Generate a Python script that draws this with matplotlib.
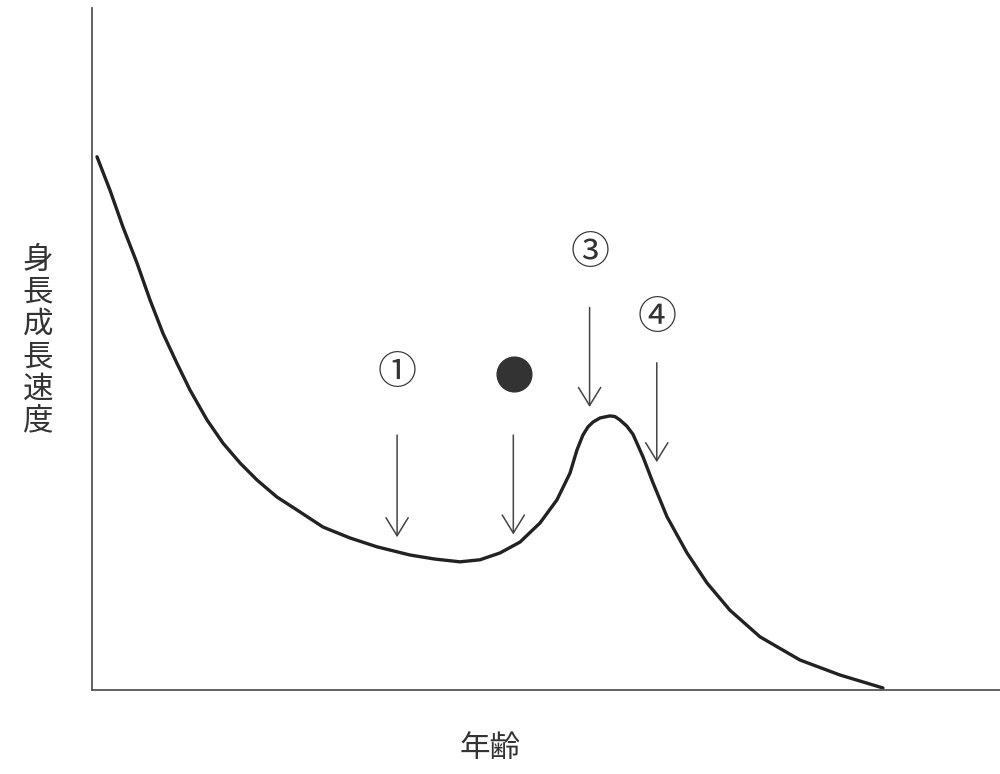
import matplotlib
matplotlib.use("Agg")
import matplotlib.pyplot as plt

plt.rcParams['font.family'] = ['Noto Sans CJK JP', 'DejaVu Sans']

# growth velocity curve (axis units 0..100)
age = [0.55, 1.98, 3.41, 4.96, 6.39, 7.82, 9.36, 10.79, 12.67, 14.43, 16.30,
       18.17, 20.37, 22.58, 25.44, 28.41, 31.39, 35.02, 37.78, 40.53, 42.73,
       44.93, 47.14, 49.34, 51.21, 52.64, 53.41, 54.07, 54.63, 55.18, 55.95,
       57.05, 57.60, 58.15, 58.90, 59.58, 60.68, 61.78, 63.33, 65.53, 67.73,
       70.26, 73.57, 77.97, 82.38, 87.11]
velocity = [78.2, 73.3, 67.9, 62.6, 57.2, 52.3, 47.9, 44.0, 39.6, 36.2, 33.3,
            30.8, 28.3, 26.4, 23.9, 22.3, 21.0, 19.8, 19.2, 18.8, 19.1,
            20.1, 21.7, 24.5, 27.9, 31.8, 35.2, 37.4, 38.6, 39.3, 39.9,
            40.2, 40.1, 39.6, 38.7, 37.5, 34.2, 30.4, 25.4, 20.1, 15.7,
            11.7, 7.8, 4.4, 2.2, 0.3]

# markers: label, label position, arrow x, arrow start/end y
marks = ['①', '●', '③', '④']
mark_x = [33.6, 46.5, 54.8, 62.2]
mark_y = [46.5, 46.3, 64.1, 54.5]
arrow_x = [33.6, 46.4, 54.8, 62.2]
arrow_top = [37.8, 37.8, 56.5, 48.4]
arrow_tip = [22.0, 22.4, 41.1, 33.0]

fig = plt.figure(figsize=(10, 7.74), dpi=100)
ax = fig.add_axes([0.092, 0.1085, 0.908, 0.881])
ax.set_xlim(0, 100)
ax.set_ylim(0, 100)

ax.plot(age, velocity, color='#222222', lw=2.4, solid_capstyle='round',
        solid_joinstyle='round')

for lab, lx, ly, axx, at, tip in zip(marks, mark_x, mark_y, arrow_x, arrow_top, arrow_tip):
    if lab == '●':
        ax.plot(lx, ly, 'o', color='#333333', ms=25)
    else:
        ax.text(lx, ly, lab, fontsize=28, ha='center', va='center', color='#333333')
    ax.annotate('', xy=(axx, tip), xytext=(axx, at),
                arrowprops=dict(arrowstyle='->,head_length=1.3,head_width=0.8',
                                color='#444444', lw=1.1))

for s in ['top', 'right']:
    ax.spines[s].set_visible(False)
for s in ['left', 'bottom']:
    ax.spines[s].set_color('#555555')
    ax.spines[s].set_linewidth(1.3)
ax.set_xticks([])
ax.set_yticks([])

fig.text(0.038, 0.56, '\n'.join('身長成長速度'), fontsize=22, ha='center', va='center',
         linespacing=1.05, color='#333333')
fig.text(0.49, 0.033, '年齢', fontsize=22, ha='center', va='center', color='#333333')

fig.savefig('out.png', dpi=100)
